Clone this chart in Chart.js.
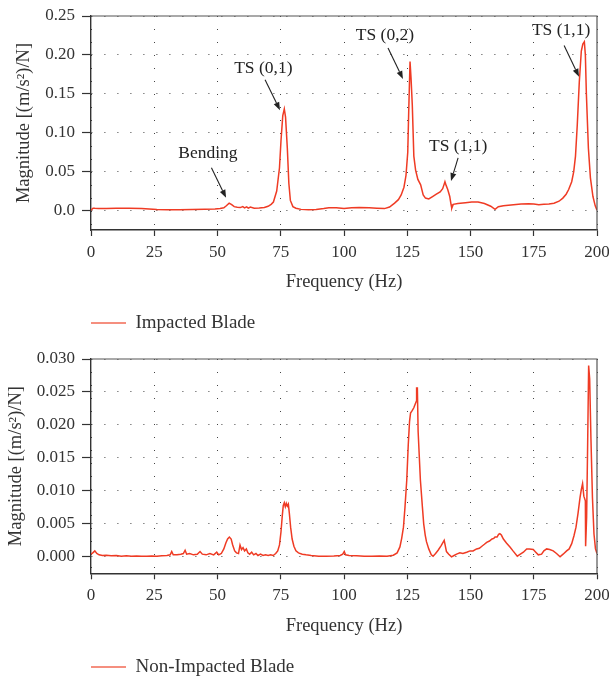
<!DOCTYPE html>
<html><head><meta charset="utf-8">
<script src="https://cdn.jsdelivr.net/npm/chart.js@4.4.1/dist/chart.umd.min.js"></script>
<style>
html,body{margin:0;padding:0;background:#fff;overflow:hidden;width:609px;height:682px}
#w1{position:absolute;left:0;top:0;width:609px;height:345px}
#w2{position:absolute;left:0;top:340px;width:609px;height:350px}
</style></head><body>
<div id="w1"><canvas id="c1"></canvas></div>
<div id="w2"><canvas id="c2"></canvas></div>
<script>
// ---------- data ----------
const xTickValues = [0, 25, 50, 75, 100, 125, 150, 175, 200];
const xTickLabels = ['0', '25', '50', '75', '100', '125', '150', '175', '200'];

const topYTickValues = [0, 0.05, 0.10, 0.15, 0.20, 0.25];
const topYTickLabels = ['0.0', '0.05', '0.10', '0.15', '0.20', '0.25'];
const botYTickValues = [0, 0.005, 0.010, 0.015, 0.020, 0.025, 0.030];
const botYTickLabels = ['0.000', '0.005', '0.010', '0.015', '0.020', '0.025', '0.030'];

const impactedFreq = [0,0.8,1.5,3,6,10,15,20,23,26,30,35,40,45,49,51,52.5,53.5,54.6,55.6,56.6,57.8,59,60,60.7,61.5,62.2,63,64.5,66.5,68.5,70,71.2,72.1,73.4,74.5,75.1,75.8,76.4,76.9,77.6,78.2,78.8,79.8,81,83,86,89,92,94,97,100,103,106,110,113,116,118,120,121.5,122.6,123.7,124.5,125.2,125.6,126.1,126.5,127,127.6,128.3,129.2,130.3,131.3,132.2,133.5,135,136.5,138,139,139.5,139.9,140.4,141,141.8,142.3,142.6,143.2,145,148,150.5,153,155.5,158,159.7,161,163,166,170,173,175,177,179,181,183,185,186.5,187.8,188.8,190,190.8,191.5,192.2,193,193.8,194.4,195,195.4,195.8,196.6,197.4,198.4,199.3,200];
const impactedMag = [0.0005,0.003,0.0028,0.0025,0.0027,0.003,0.003,0.0027,0.002,0.0012,0.001,0.0011,0.0013,0.0016,0.0021,0.0025,0.0035,0.0062,0.0095,0.0075,0.005,0.0043,0.0038,0.005,0.0035,0.0048,0.003,0.0045,0.003,0.0032,0.004,0.0055,0.008,0.011,0.025,0.055,0.09,0.122,0.1305,0.12,0.08,0.035,0.013,0.005,0.003,0.0015,0.001,0.0012,0.0025,0.0037,0.0035,0.0025,0.0035,0.004,0.0036,0.003,0.0025,0.0045,0.0095,0.014,0.02,0.03,0.045,0.075,0.13,0.1915,0.17,0.135,0.07,0.052,0.04,0.033,0.02,0.016,0.015,0.018,0.021,0.024,0.028,0.033,0.037,0.032,0.027,0.018,0.008,0.003,0.008,0.009,0.01,0.011,0.011,0.009,0.0055,0.0015,0.005,0.0062,0.0072,0.0085,0.0088,0.0085,0.0075,0.008,0.0085,0.0095,0.012,0.016,0.021,0.027,0.037,0.05,0.07,0.11,0.165,0.205,0.214,0.217,0.2,0.15,0.08,0.042,0.018,0.006,0.0005];

const nonImpactedFreq = [0,0.7,1.5,2.3,3.2,4.5,6,8,10,12,14,16,18,20,22,24,26,28,30,31.3,31.9,32.5,34,35.5,36.5,37.2,37.8,39,40.5,42,43.1,44,45.5,47,48.5,49.7,50.5,51.5,52.5,53.3,54,54.7,55.4,56,56.8,57.5,58.3,58.9,59.5,60.1,60.7,61.4,62,62.7,63.5,64.3,65.2,66,67,68,69,70,71,72,73,73.8,74.5,75.1,75.6,76,76.4,76.8,77.2,77.6,78,78.4,78.9,79.5,80.2,81,82,83.5,85,87,90,93,96,98.5,99.5,100.1,100.6,102,105,108,111,114,117,119.5,121,122.1,122.8,123.5,124.1,124.8,125.4,125.9,126.3,127,127.6,128.2,128.6,128.7,129,129.3,130.2,131,131.5,132.1,132.6,133.5,134.5,135.2,136.2,137.2,138.4,139.6,140.5,141.4,142.5,143.5,144.5,145.8,147,148.5,149.8,151,152.4,153.5,154.5,155.5,156.4,157.5,158.5,159.2,159.7,160.5,161.1,161.6,162.2,163,164.2,165.6,166.8,168.5,169.7,170.9,172.2,173.3,174.8,175.8,176.8,178.1,179,180.1,181.3,182.7,184,185.4,186.6,188,189,190,190.9,191.7,192.5,193.3,193.8,194.3,194.8,195.4,195.5,195.9,196.3,196.7,197.1,197.6,198.2,198.8,199.4,200];
const nonImpactedMag = [0.0004,0.0006,0.0009,0.0005,0.0003,0.0002,0.00025,0.00015,0.0002,0.0001,0.00015,0.0001,0.00012,0.0001,0.0001,0.00012,0.00008,0.00015,0.0002,0.0003,0.0008,0.0003,0.0003,0.0004,0.0005,0.001,0.0004,0.0005,0.0003,0.0004,0.0008,0.0004,0.0003,0.0005,0.0003,0.0007,0.0003,0.0005,0.0012,0.0021,0.0027,0.003,0.0027,0.0018,0.0009,0.0006,0.0005,0.0018,0.0011,0.0014,0.0009,0.0012,0.0006,0.0004,0.0007,0.0003,0.0005,0.0002,0.0004,0.0002,0.0003,0.0002,0.0003,0.0002,0.0005,0.0009,0.0018,0.0038,0.0062,0.0078,0.0082,0.0076,0.0081,0.0077,0.008,0.0066,0.0045,0.0027,0.0016,0.0009,0.0006,0.0004,0.0003,0.0002,0.0001,0.0001,0.00012,0.0002,0.0004,0.0008,0.0003,0.0002,0.00015,0.0001,0.0001,0.00012,0.0001,0.00025,0.0006,0.0015,0.0028,0.0045,0.0075,0.0116,0.017,0.0205,0.0218,0.0222,0.0226,0.0232,0.0236,0.0256,0.0256,0.019,0.0116,0.0075,0.005,0.0033,0.0023,0.0012,0.0003,0.0001,0.0005,0.001,0.0017,0.0025,0.0008,0.0004,0.0,0.0002,0.0004,0.0006,0.0005,0.0007,0.0009,0.0009,0.0012,0.0013,0.0016,0.0019,0.0022,0.0024,0.0027,0.0028,0.003,0.003,0.0034,0.0035,0.0033,0.0027,0.0021,0.0015,0.0009,0.0001,0.0004,0.0007,0.0012,0.0012,0.0011,0.0007,0.0003,0.0004,0.0009,0.0012,0.0011,0.0009,0.0005,0.0,0.0004,0.0009,0.0012,0.002,0.0032,0.0045,0.0066,0.009,0.0102,0.0111,0.0092,0.0085,0.0016,0.006,0.017,0.029,0.027,0.018,0.009,0.0035,0.0012,0.0005];

// annotation labels (data coordinates of text centre, arrow tail, arrow head)
const topAnnotations = [
  {text: 'Bending',  tx: 46.2,  ty: 0.074, fx: 47.6,  fy: 0.055, hx: 53.4,  hy: 0.0163},
  {text: 'TS (0,1)', tx: 68.1,  ty: 0.183, fx: 68.8,  fy: 0.168, hx: 74.7,  hy: 0.129},
  {text: 'TS (0,2)', tx: 116.2, ty: 0.2256, fx: 117.4, fy: 0.209, hx: 123.3, hy: 0.169},
  {text: 'TS (1,1)', tx: 145.1, ty: 0.083, fx: 145.1, fy: 0.0677, hx: 142.3, hy: 0.038},
  {text: 'TS (1,1)', tx: 185.8, ty: 0.231, fx: 187.0, fy: 0.212, hx: 192.9, hy: 0.172}
];

// ---------- styling ----------
const FONT = "'Liberation Serif', 'DejaVu Serif', serif";
const TEXT = '#333333';
const LINE = '#ef3b24';
const LEGEND_LINE = '#f26a55';

const framePlugin = {
  id: 'frame',
  afterDatasetsDraw(chart) {
    const {ctx, chartArea: a} = chart;
    ctx.save();
    ctx.strokeStyle = '#555';
    ctx.lineWidth = 1.2;
    ctx.beginPath();
    ctx.moveTo(a.left, a.top);
    ctx.lineTo(a.right, a.top);
    ctx.lineTo(a.right, a.bottom);
    ctx.stroke();
    ctx.restore();
  }
};

const legendShift = {
  id: 'legendShift',
  afterLayout(chart) {
    const lg = chart.legend;
    if (!lg) return;
    const target = chart.options.plugins.legendShift.left;
    const dx = target - lg.left;
    lg.left += dx; lg.right += dx;
  }
};

const annotPlugin = {
  id: 'annots',
  afterDatasetsDraw(chart) {
    const list = chart.options.plugins.annots.items || [];
    const {ctx, scales: {x, y}} = chart;
    ctx.save();
    ctx.fillStyle = '#222';
    ctx.strokeStyle = '#222';
    ctx.font = "17.5px " + FONT;
    ctx.textAlign = 'center';
    ctx.textBaseline = 'middle';
    for (const a of list) {
      ctx.fillText(a.text, x.getPixelForValue(a.tx), y.getPixelForValue(a.ty));
      const x0 = x.getPixelForValue(a.fx), y0 = y.getPixelForValue(a.fy);
      const x1 = x.getPixelForValue(a.hx), y1 = y.getPixelForValue(a.hy);
      const ang = Math.atan2(y1 - y0, x1 - x0);
      const L = 8, W = 3;
      const bx = x1 - L * Math.cos(ang), by = y1 - L * Math.sin(ang);
      ctx.lineWidth = 1.1;
      ctx.beginPath(); ctx.moveTo(x0, y0); ctx.lineTo(bx, by); ctx.stroke();
      ctx.beginPath();
      ctx.moveTo(x1, y1);
      ctx.lineTo(bx + W * Math.sin(ang), by - W * Math.cos(ang));
      ctx.lineTo(bx - W * Math.sin(ang), by + W * Math.cos(ang));
      ctx.closePath(); ctx.fill();
    }
    ctx.restore();
  }
};

function makeChart(id, freq, mag, label, yMin, yMax, yVals, yLabels, cfg) {
  const pts = freq.map((f, i) => ({x: f, y: mag[i]}));
  return new Chart(document.getElementById(id), {
    type: 'line',
    data: {datasets: [{
      label: label, data: pts, borderColor: LINE, backgroundColor: LINE,
      borderWidth: 1.5, pointRadius: 0, tension: 0, fill: false
    }]},
    plugins: [framePlugin, legendShift, annotPlugin],
    options: {
      responsive: true, maintainAspectRatio: false, animation: false,
      layout: {padding: {left: 0, right: 12, top: cfg.padTop, bottom: cfg.padBottom}},
      plugins: {
        legend: {
          display: true, position: 'bottom', align: 'start',
          labels: {
            usePointStyle: true, pointStyle: 'line', pointStyleWidth: 35,
            padding: 10, color: TEXT, font: {family: FONT, size: 19},
            generateLabels(chart) {
              const items = Chart.defaults.plugins.legend.labels.generateLabels(chart);
              items.forEach(it => { it.strokeStyle = LEGEND_LINE; it.lineWidth = 1.6; });
              return items;
            }
          }
        },
        tooltip: {enabled: false},
        legendShift: {left: 81},
        annots: {items: cfg.annots || []}
      },
      scales: {
        x: {
          type: 'linear', min: 0, max: 200,
          afterBuildTicks(s) { s.ticks = xTickValues.map(v => ({value: v})); },
          afterFit(s) { s.height = cfg.xAxisH; s.paddingLeft = 0; s.paddingRight = 0; },
          ticks: {
            color: TEXT, font: {family: FONT, size: 17}, padding: cfg.xTickPad, maxRotation: 0,
            callback: (v, i) => xTickLabels[i]
          },
          grid: {
            color: '#444', lineWidth: 1, drawTicks: true, tickLength: 6,
            tickColor: '#333', tickWidth: 1.2, tickBorderDash: []
          },
          border: {display: true, color: '#333', width: 1.4, dash: [1, 12]},
          title: {display: true, text: 'Frequency (Hz)', color: TEXT,
                  font: {family: FONT, size: 18.5}, padding: {top: 0, bottom: 10.4}}
        },
        y: {
          type: 'linear', min: yMin, max: yMax,
          afterBuildTicks(s) { s.ticks = yVals.map(v => ({value: v})); },
          afterFit(s) { s.width = 91; s.paddingTop = 0; s.paddingBottom = 0; },
          ticks: {
            color: TEXT, font: {family: FONT, size: 17}, padding: 7,
            callback: (v, i) => yLabels[i]
          },
          grid: {
            color: '#444', lineWidth: 1, drawTicks: true, tickLength: 9,
            tickColor: '#333', tickWidth: 1.2, tickBorderDash: []
          },
          border: {display: true, color: '#333', width: 1.4, dash: [1, 12]},
          title: {display: true, text: 'Magnitude [(m/s²)/N]', color: TEXT,
                  font: {family: FONT, size: 18.5}, padding: {top: cfg.yTitlePad, bottom: 0}}
        }
      }
    }
  });
}

makeChart('c1', impactedFreq, impactedMag, 'Impacted Blade', -0.025, 0.25,
  topYTickValues, topYTickLabels,
  {padTop: 16, padBottom: 2.5, xAxisH: 73.5, xTickPad: 6.5, yTitlePad: 12.9, annots: topAnnotations});

makeChart('c2', nonImpactedFreq, nonImpactedMag, 'Non-Impacted Blade', -0.0025, 0.030,
  botYTickValues, botYTickLabels,
  {padTop: 19, padBottom: 3.5, xAxisH: 74.2, xTickPad: 5.8, yTitlePad: 4.9});
</script>
</body></html>
